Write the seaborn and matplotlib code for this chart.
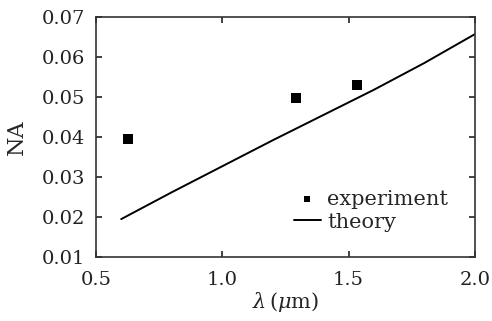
import matplotlib
matplotlib.use('Agg')
import matplotlib.pyplot as plt
import pandas as pd
import seaborn as sns

# experiment points
exp_wavelength = [0.627, 1.294, 1.532]
exp_na = [0.0395, 0.0497, 0.0530]

# theory curve
theory_wavelength = [0.6, 0.8, 1.0, 1.2, 1.4, 1.6, 1.8, 2.0]
theory_na = [0.0195, 0.0262, 0.0327, 0.0392, 0.0455, 0.0518, 0.0585, 0.0657]

sns.set_style("ticks")
plt.rcParams['font.family'] = ['DejaVu Serif']
plt.rcParams['mathtext.fontset'] = 'dejavuserif'

fig = plt.figure(figsize=(4.92, 3.21), dpi=100)
ax = fig.add_axes([0.195, 0.199, 0.77, 0.748])

df_theory = pd.DataFrame({"x": theory_wavelength, "y": theory_na})
df_exp = pd.DataFrame({"x": exp_wavelength, "y": exp_na})

sns.lineplot(data=df_theory, x="x", y="y", color="black", lw=1.4, ax=ax, label="theory")
sns.scatterplot(data=df_exp, x="x", y="y", marker="s", color="black", s=45,
                edgecolor="black", linewidth=0, ax=ax, label="experiment")

ax.set_xlim(0.5, 2.0)
ax.set_ylim(0.01, 0.07)
ax.set_xticks([0.5, 1.0, 1.5, 2.0])
ax.set_xticklabels(["0.5", "1.0", "1.5", "2.0"])
ax.set_yticks([0.01, 0.02, 0.03, 0.04, 0.05, 0.06, 0.07])
ax.set_yticklabels(["0.01", "0.02", "0.03", "0.04", "0.05", "0.06", "0.07"])
ax.tick_params(direction="in", length=4, width=1.2, top=True, right=True,
               labelsize=14, colors="#222222")
ax.tick_params(axis="x", pad=10)
ax.tick_params(axis="y", pad=8)
for sp in ax.spines.values():
    sp.set_linewidth(1.2)
    sp.set_color("#333333")

ax.set_xlabel(r"$\lambda\,(\mu$m)", fontsize=15, labelpad=1)
ax.set_ylabel("NA", fontsize=16, labelpad=10)

handles, labels = ax.get_legend_handles_labels()
order = [labels.index("experiment"), labels.index("theory")]
ax.legend([handles[i] for i in order], [labels[i] for i in order],
          loc="upper left", bbox_to_anchor=(0.495, 0.325), frameon=False,
          fontsize=15, handlelength=1.3, handletextpad=0.3, labelspacing=0.2,
          borderpad=0, markerscale=0.65)

fig.savefig("out.png", dpi=100)
plt.close(fig)
